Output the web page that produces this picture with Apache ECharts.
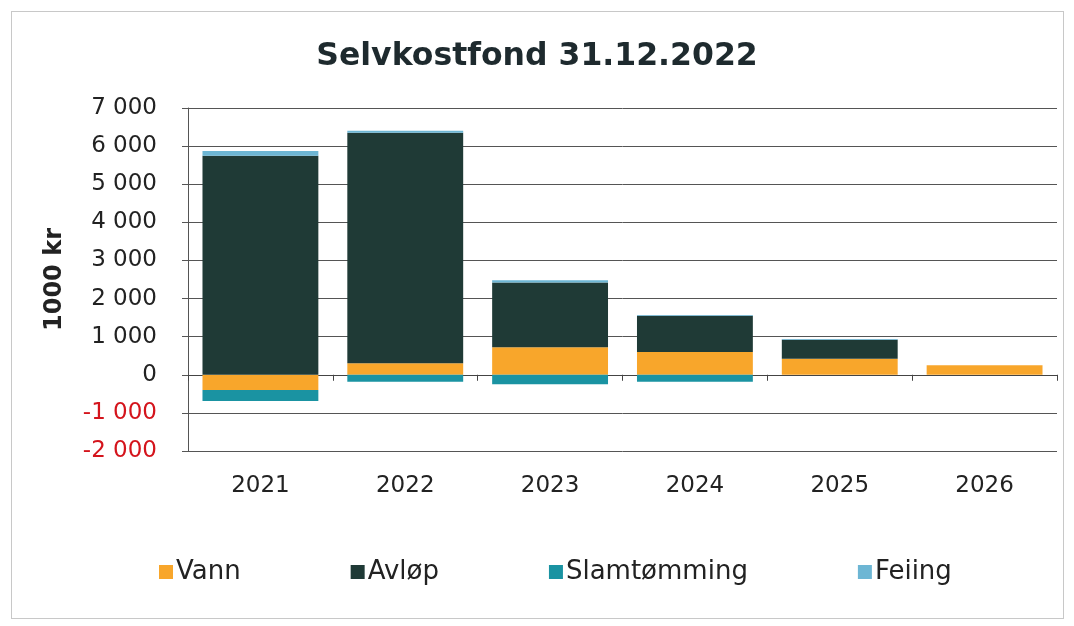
<!DOCTYPE html>
<html>
<head>
<meta charset="utf-8">
<script src="https://cdn.jsdelivr.net/npm/echarts@6/dist/echarts.min.js"></script>
<style>
  html, body { margin: 0; padding: 0; background: #fff; }
  #chart { width: 1074px; height: 626px; }
  #frame { position: absolute; left: 11px; top: 11px; width: 1051px; height: 606px;
           border: 1px solid #c8c8c8; pointer-events: none; }
</style>
</head>
<body>
<div id="chart"></div>
<div id="frame"></div>
<script>
// Values in 1000 kr
const years = ['2021', '2022', '2023', '2024', '2025', '2026'];
const vann = [-400, 300, 720, 600, 420, 250];
const avlop = [5750, 6050, 1700, 950, 500, 0];
const slamtomming = [-290, -180, -250, -180, 0, 0];
const feiing = [120, 50, 60, 20, 20, 0];
const yTicks = { min: -2000, max: 7000, interval: 1000 };

const FONT = 'DejaVu Sans';

function fmt(v) {
  const s = String(Math.abs(v)).replace(/\B(?=(\d{3})+(?!\d))/g, ' ');
  return v < 0 ? '{neg|-' + s + '}' : '{pos|' + s + '}';
}

function barSeries(name, data, color) {
  return {
    name: name,
    type: 'bar',
    stack: 'fond',
    data: data,
    barCategoryGap: '20%',
    itemStyle: { color: color },
    emphasis: { disabled: true }
  };
}

const chart = echarts.init(document.getElementById('chart'));
chart.setOption({
  animation: false,
  textStyle: { fontFamily: FONT },
  title: {
    text: 'Selvkostfond 31.12.2022',
    left: 'center',
    top: 36,
    textStyle: { fontFamily: FONT, fontWeight: 'bold', fontSize: 31.5, color: '#1e2a2e' }
  },
  legend: {
    left: 154,
    top: 554,
    itemGap: 110,
    itemWidth: 14,
    itemHeight: 14,
    icon: 'rect',
    textStyle: { fontFamily: FONT, fontSize: 26, color: '#222', padding: [0, 0, 0, -2] }
  },
  grid: { left: 188, right: 17, top: 108, bottom: 175 },
  xAxis: [
    {
      type: 'category',
      data: years,
      axisLine: { onZero: true, lineStyle: { color: '#444', width: 1 } },
      axisTick: { show: true, length: 6, lineStyle: { color: '#444' } },
      axisLabel: { show: false }
    },
    {
      type: 'category',
      data: years,
      position: 'bottom',
      axisLine: { show: false, onZero: false },
      axisTick: { show: false },
      axisLabel: { margin: 24, fontFamily: FONT, fontSize: 23, color: '#222' }
    }
  ],
  yAxis: {
    type: 'value',
    min: yTicks.min,
    max: yTicks.max,
    interval: yTicks.interval,
    name: '1000 kr',
    nameLocation: 'middle',
    nameGap: 121,
    nameRotate: 90,
    nameTextStyle: { fontFamily: FONT, fontWeight: 'bold', fontSize: 24, color: '#222' },
    axisLine: { show: true, lineStyle: { color: '#555' } },
    axisTick: { show: true, length: 6, lineStyle: { color: '#555' } },
    splitLine: { lineStyle: { color: '#555', width: 1 } },
    axisLabel: {
      margin: 31,
      formatter: fmt,
      rich: {
        pos: { fontFamily: FONT, fontSize: 23, color: '#222' },
        neg: { fontFamily: FONT, fontSize: 23, color: '#d4141c' }
      }
    }
  },
  series: [
    barSeries('Vann', vann, '#f8a62b'),
    barSeries('Avløp', avlop, '#1f3a36'),
    barSeries('Slamtømming', slamtomming, '#1a93a2'),
    barSeries('Feiing', feiing, '#6db6d4')
  ]
});
</script>
</body>
</html>
